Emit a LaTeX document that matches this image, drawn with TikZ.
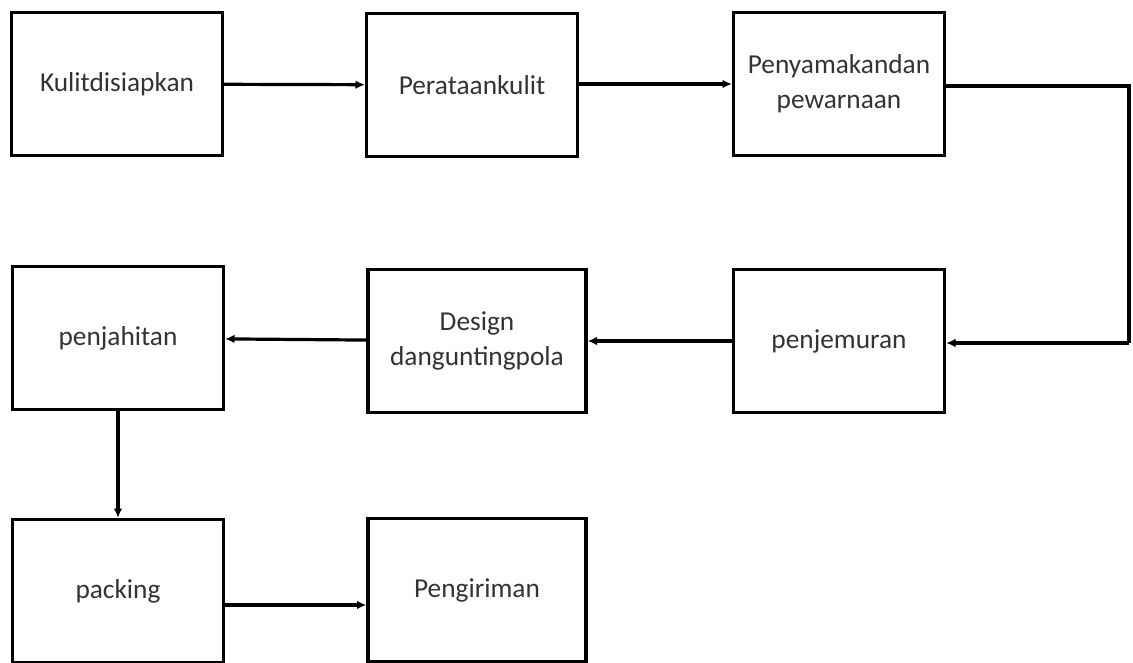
\documentclass[tikz,border=0pt]{standalone}
\usepackage{fontspec}
\setmainfont{Carlito}
\usetikzlibrary{positioning,arrows.meta}

\begin{document}
\begin{tikzpicture}[x=0.75pt, y=-0.75pt, node distance = 192.75pt and 270.75pt, on grid,
    proses/.style = {draw, line width=2.5pt, minimum width=158.25pt, minimum height=107.25pt,
                     align=center, font=\fontsize{20.5}{26}\selectfont, text=black!80},
    lebar/.style = {minimum width=163.5pt},
    panah/.style = {-{Latex[length=7pt,width=6.5pt]}, line width=2.4pt}]
   \useasboundingbox (0,0) rectangle (1133,663);
   \node[proses] (p_0) at (117,84) {Kulitdisiapkan};
   \node[proses] (p_1) [right = of p_0, xshift=-4.5pt, yshift=-0.75pt] {Perataankulit};
   \node[proses] (p_2) [right = of p_1, xshift=4.5pt, yshift=0.75pt] {Penyamakandan\\pewarnaan};
   \node[proses] (p_3) [below = of p_2] {penjemuran};
   \node[proses, lebar] (p_4) [left = of p_3, xshift=-0.75pt] {Design\\danguntingpola};
   \node[proses] (p_5) [left = of p_4, xshift=1.5pt, yshift=2.25pt] {penjahitan};
   \node[proses] (p_6) [below = 189.75pt of p_5] {packing};
   \node[proses, lebar] (p_7) [right = of p_6, xshift=-1.5pt, yshift=0.75pt] {Pengiriman};
   \coordinate (c_0) at (1129,86);
   \coordinate (c_1) at (1129,343);
   \draw[panah] (p_0) -- (p_1);
   \draw[panah] (p_1.east |- p_2) -- (p_2);
   \draw[line width=2.4pt] (p_2.east |- c_0) -- (c_0) -- (c_1);
   \draw[panah] (c_1) -- (p_3.east |- c_1);
   \draw[panah] (p_3) -- (p_4);
   \draw[panah] (p_4) -- (p_5);
   \draw[panah] (p_5) -- (p_6);
   \draw[panah] (p_6.east |- 0,605) -- (p_7.west |- 0,605);
\end{tikzpicture}
\end{document}
